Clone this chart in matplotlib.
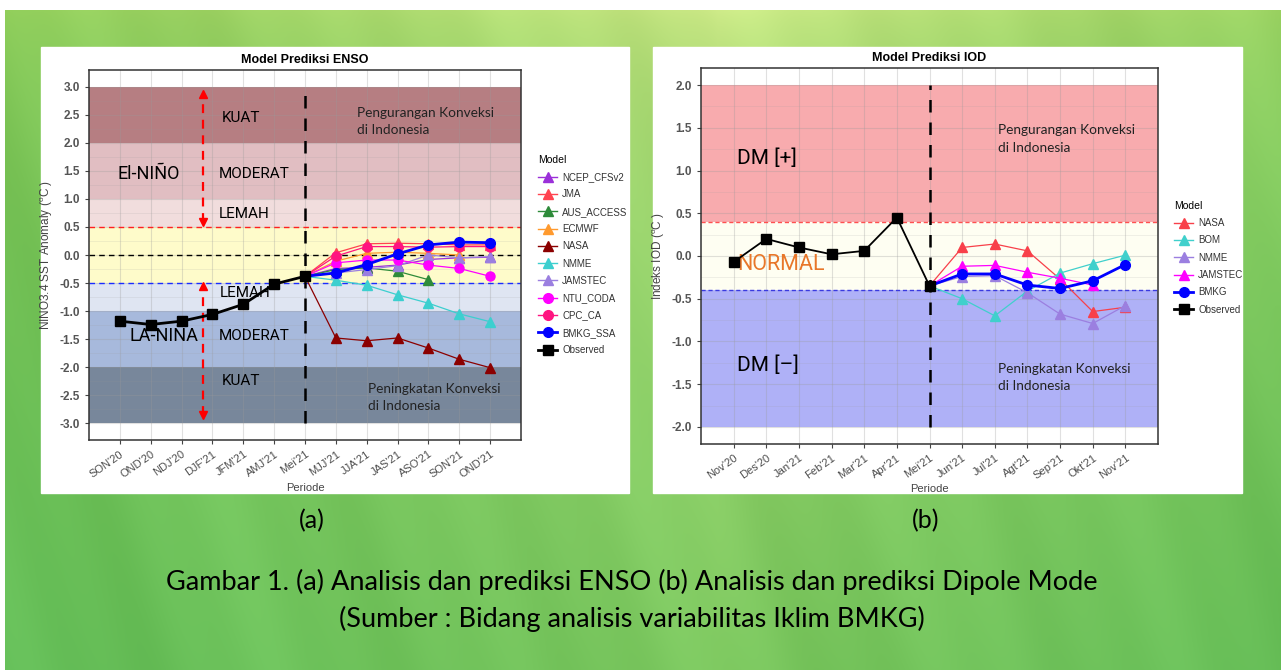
import numpy as np
import matplotlib.pyplot as plt
from matplotlib.patches import Rectangle
from matplotlib.lines import Line2D

W, H = 1281, 670

# ---- data ENSO (nilai prediksi mulai MJJ'21) ----
enso_periode = ["SON'20", "OND'20", "NDJ'20", "DJF'21", "JFM'21", "AMJ'21", "Mei'21",
                "MJJ'21", "JJA'21", "JAS'21", "ASO'21", "SON'21", "OND'21"]
enso_observed = [-1.18, -1.24, -1.18, -1.06, -0.88, -0.52, -0.38]
enso_ncep = [-0.24, -0.22, -0.18, -0.08, -0.05, -0.04]
enso_jma = [0.04, 0.20, 0.21, 0.20, 0.18, 0.18]
enso_aus = [-0.26, -0.23, -0.29, -0.44]
enso_ecmwf = [-0.11, 0.03, 0.05, 0.03, 0.00]
enso_nasa = [-1.48, -1.53, -1.48, -1.66, -1.86, -2.01]
enso_nmme = [-0.45, -0.54, -0.71, -0.86, -1.05, -1.19]
enso_jamstec = [-0.32, -0.26, -0.19, 0.00, -0.05, -0.03]
enso_ntu = [-0.14, -0.09, -0.09, -0.18, -0.24, -0.38]
enso_cpc = [-0.02, 0.15, 0.15, 0.14, 0.15, 0.15]
enso_bmkg = [-0.32, -0.17, 0.02, 0.18, 0.23, 0.22]

# ---- data IOD (prediksi mulai Jun'21) ----
iod_periode = ["Nov'20", "Des'20", "Jan'21", "Feb'21", "Mar'21", "Apr'21", "Mei'21",
               "Jun'21", "Jul'21", "Agt'21", "Sep'21", "Okt'21", "Nov'21"]
iod_observed = [-0.07, 0.20, 0.10, 0.02, 0.06, 0.45, -0.35]
iod_nasa = [0.10, 0.14, 0.06, -0.27, -0.65, -0.60]
iod_bom = [-0.50, -0.70, -0.41, -0.20, -0.09, 0.01]
iod_nmme = [-0.24, -0.23, -0.43, -0.68, -0.79, -0.58]
iod_jamstec = [-0.12, -0.11, -0.19, -0.26, -0.34]
iod_bmkg = [-0.21, -0.21, -0.34, -0.38, -0.29, -0.10]

AXFONT = ['Liberation Sans', 'DejaVu Sans']
LABFONT = ['Roboto', 'DejaVu Sans']
CALFONT = ['Lato', 'DejaVu Sans']
plt.rcParams['font.family'] = AXFONT

fig = plt.figure(figsize=(W / 100, H / 100), dpi=100)

# latar hijau
bg = fig.add_axes([0, 0, 1, 1], zorder=-10)
yy, xx = np.mgrid[0:H, 0:W]
tx = np.clip(np.abs(xx - 0.56 * W) / (0.56 * W), 0, 1)[..., None] ** 0.8
ty = (yy / H)[..., None] ** 0.45
top = np.array([222, 242, 145]) * (1 - tx) + np.array([150, 206, 88]) * tx
bot = np.array([125, 200, 95]) * (1 - tx) + np.array([100, 190, 88]) * tx
img = top * (1 - ty) + bot * ty
streak = (3 * np.sin((xx - 0.3 * yy) / 37.0) + 2 * np.sin((xx - 0.28 * yy) / 13.1 + 1.3)
          + 1.5 * np.sin((xx - 0.33 * yy) / 61.0 + 0.4))
img = np.clip(img + streak[..., None], 0, 255) / 255
img[:10, :] = 1
img[:, :5] = 1
bg.imshow(img, extent=(0, W, H, 0), aspect='auto', interpolation='bilinear')
bg.set_xlim(0, W)
bg.set_ylim(H, 0)
bg.axis('off')
bg.add_patch(Rectangle((41, 47), 588, 445.5, color='white'))
bg.add_patch(Rectangle((653, 47), 589, 445.5, color='white'))

bg.text(312, 521, '(a)', fontsize=18, family=CALFONT, ha='center', va='center')
bg.text(926, 521, '(b)', fontsize=18, family=CALFONT, ha='center', va='center')
bg.text(632, 582, 'Gambar 1. (a) Analisis dan prediksi ENSO (b) Analisis dan prediksi Dipole Mode',
        fontsize=19.5, family=CALFONT, ha='center', va='center')
bg.text(632, 619, '(Sumber : Bidang analisis variabilitas Iklim BMKG)',
        fontsize=19.5, family=CALFONT, ha='center', va='center')


def style_axes(ax, periode, yticks, ylim):
    n = len(periode)
    ax.set_xlim(-1, n)
    ax.set_ylim(*ylim)
    # grid ala ggplot, di atas pita warna
    for i in range(n):
        ax.axvline(i, color='#9a9a9a', alpha=0.3, lw=0.8, zorder=1)
    for v in yticks:
        ax.axhline(v, color='#9a9a9a', alpha=0.3, lw=0.8, zorder=1)
    for v in (np.array(yticks[:-1]) + 0.25):
        ax.axhline(v, color='#9a9a9a', alpha=0.2, lw=0.5, zorder=1)
    ax.set_xticks(range(n))
    ax.set_xticklabels(periode, rotation=35, ha='right', va='top', rotation_mode='anchor',
                       fontsize=8, color='#4d4d4d')
    ax.set_yticks(yticks)
    ax.set_yticklabels(['%.1f' % v for v in yticks], fontsize=8.5, color='#555555',
                       fontweight='bold')
    ax.tick_params(length=3, color='#444444', width=0.8)
    for s in ax.spines.values():
        s.set_color('#333333')
        s.set_linewidth(1.1)
    ax.set_xlabel('Periode', fontsize=8, color='#444444', labelpad=2)


def draw_series(ax, start, obs_last, vals, color, marker, lw=0.9, ms=7, z=3):
    x = list(range(start - 1, start + len(vals)))
    y = [obs_last] + list(vals)
    ax.plot(x, y, color=color, lw=lw, zorder=z)
    ax.plot(x[1:], y[1:], ls='none', marker=marker, color=color, ms=ms, zorder=z)


def legend_handle(color, marker, lw=1.0, ms=7):
    return Line2D([0], [0], color=color, lw=lw, marker=marker, ms=ms)


# ================= ENSO =================
ax1 = fig.add_axes([89 / W, 1 - 440 / H, (521 - 89) / W, (440 - 70) / H])
enso_bands = [(2, 3, '#b67e82'), (1, 2, '#e1bec2'), (0.5, 1, '#f1dddd'),
              (-0.5, 0.5, '#fefbca'), (-1, -0.5, '#dfe5f2'), (-2, -1, '#a7b9dc'),
              (-3, -2, '#78879b')]
for lo, hi, c in enso_bands:
    ax1.axhspan(lo, hi, color=c, lw=0, zorder=0.5)
style_axes(ax1, enso_periode, list(np.arange(-3, 3.01, 0.5)), (-3.3, 3.3))
ax1.set_title('Model Prediksi ENSO', fontsize=9, fontweight='bold', pad=5)
ax1.set_ylabel(r'NINO3.4 SST Anomaly ($^{\mathregular{o}}$C )', fontsize=8.5, color='#444444',
               labelpad=3)

ax1.axhline(0.5, color='#ff2020', ls=(0, (4, 3)), lw=1, zorder=2)
ax1.axhline(0.0, color='black', ls=(0, (4, 3)), lw=1, zorder=2)
ax1.axhline(-0.5, color='#1a2cff', ls=(0, (4, 3)), lw=1, zorder=2)
ax1.plot([6, 6], [-3, 3], color='black', ls=(0, (5, 4)), lw=1.8, zorder=2)

# panah merah
for a, b in [(0.58, 2.88), (-2.86, -0.56)]:
    ax1.plot([2.7, 2.7], [a, b], color='red', ls=(0, (4, 3)), lw=1.6, zorder=2)
    ax1.plot(2.7, b, marker='^', color='red', ms=6, zorder=2)
    ax1.plot(2.7, a, marker='v', color='red', ms=6, zorder=2)

ax1.text(3.3, 2.44, 'KUAT', family=LABFONT, fontsize=11, va='center', zorder=2)
ax1.text(3.2, 1.44, 'MODERAT', family=LABFONT, fontsize=11, va='center', zorder=2)
ax1.text(3.2, 0.73, 'LEMAH', family=LABFONT, fontsize=11, va='center', zorder=2)
ax1.text(0.95, 1.44, 'El-NIÑO', family=LABFONT, fontsize=13, va='center', ha='center', zorder=2)
ax1.text(1.43, -1.44, 'LA-NIÑA', family=LABFONT, fontsize=13, va='center', ha='center', zorder=2)
ax1.text(3.25, -0.68, 'LEMAH', family=LABFONT, fontsize=11, va='center', zorder=2)
ax1.text(3.2, -1.44, 'MODERAT', family=LABFONT, fontsize=11, va='center', zorder=2)
ax1.text(3.3, -2.25, 'KUAT', family=LABFONT, fontsize=11, va='center', zorder=2)
ax1.text(7.7, 2.38, 'Pengurangan Konveksi\ndi Indonesia', family=CALFONT, fontsize=9.8,
         va='center', linespacing=1.55, color='#222222', zorder=2)
ax1.text(8.05, -2.54, 'Peningkatan Konveksi\ndi Indonesia', family=CALFONT, fontsize=9.8,
         va='center', linespacing=1.55, color='#222222', zorder=2)

enso_models = [
    ('NCEP_CFSv2', enso_ncep, '#9b30d9', '^'),
    ('JMA', enso_jma, '#ff4350', '^'),
    ('AUS_ACCESS', enso_aus, '#2e8b3a', '^'),
    ('ECMWF', enso_ecmwf, '#ff9a2e', '^'),
    ('NASA', enso_nasa, '#8b0000', '^'),
    ('NMME', enso_nmme, '#3ccfcf', '^'),
    ('JAMSTEC', enso_jamstec, '#9b7fe0', '^'),
    ('NTU_CODA', enso_ntu, '#ff00ff', 'o'),
    ('CPC_CA', enso_cpc, '#ff1480', 'o'),
]
handles = []
for name, vals, c, m in enso_models:
    draw_series(ax1, 7, enso_observed[-1], vals, c, m, ms=7 if m == '^' else 6.5)
    handles.append(legend_handle(c, m))
draw_series(ax1, 7, enso_observed[-1], enso_bmkg, '#0000ff', 'o', lw=2, ms=7, z=4)
handles.append(legend_handle('#0000ff', 'o', lw=2))
ax1.plot(range(len(enso_observed)), enso_observed, color='black', lw=2, marker='s', ms=7,
         zorder=5)
handles.append(legend_handle('black', 's', lw=2))
leg1 = fig.legend(handles, [m[0] for m in enso_models] + ['BMKG_SSA', 'Observed'],
                  title='Model', loc='upper left', bbox_to_anchor=(533 / W, 1 - 150 / H),
                  frameon=False, fontsize=7, title_fontsize=7.5, handlelength=2.0,
                  handletextpad=0.5, labelspacing=0.75, borderpad=0)
leg1._legend_box.align = 'left'
for t in leg1.get_texts():
    t.set_color('#333333')

# ================= IOD =================
ax2 = fig.add_axes([701 / W, 1 - 444 / H, (1158 - 701) / W, (444 - 68) / H])
iod_bands = [(0.4, 2.0, '#f8abae'), (-0.4, 0.4, '#fefef2'), (-2.0, -0.4, '#afb1f7')]
for lo, hi, c in iod_bands:
    ax2.axhspan(lo, hi, color=c, lw=0, zorder=0.5)
style_axes(ax2, iod_periode, list(np.arange(-2, 2.01, 0.5)), (-2.2, 2.2))
ax2.set_title('Model Prediksi IOD', fontsize=9, fontweight='bold', pad=5)
ax2.set_ylabel(r'Indeks IOD ($^{\mathregular{o}}$C )', fontsize=8.5, color='#444444', labelpad=3)

ax2.axhline(0.4, color='#ff5050', ls=(0, (3, 2)), lw=1, zorder=2)
ax2.axhline(-0.4, color='#3a3ae0', ls=(0, (3, 2)), lw=1, zorder=2)
ax2.plot([6, 6], [-2, 2], color='black', ls=(0, (5, 4)), lw=1.8, zorder=2)

ax2.text(0.1, 1.14, 'DM [+]', family=LABFONT, fontsize=15, va='center', zorder=2)
ax2.text(0.1, -0.1, 'NORMAL', family=LABFONT, fontsize=15.5, va='center', color='#e8772a',
         zorder=2)
ax2.text(0.1, -1.28, 'DM [–]', family=LABFONT, fontsize=15, va='center', zorder=2)
ax2.text(8.1, 1.37, 'Pengurangan Konveksi\ndi Indonesia', family=CALFONT, fontsize=9.8,
         va='center', linespacing=1.55, color='#222222', zorder=2)
ax2.text(8.1, -1.42, 'Peningkatan Konveksi\ndi Indonesia', family=CALFONT, fontsize=9.8,
         va='center', linespacing=1.55, color='#222222', zorder=2)

iod_models = [
    ('NASA', iod_nasa, '#f8404a', '^'),
    ('BOM', iod_bom, '#40d0cc', '^'),
    ('NMME', iod_nmme, '#9b7fe0', '^'),
    ('JAMSTEC', iod_jamstec, '#ff00ff', '^'),
]
handles2 = []
for name, vals, c, m in iod_models:
    draw_series(ax2, 7, iod_observed[-1], vals, c, m, ms=7)
    handles2.append(legend_handle(c, m))
draw_series(ax2, 7, iod_observed[-1], iod_bmkg, '#0000ff', 'o', lw=2, ms=7, z=4)
handles2.append(legend_handle('#0000ff', 'o', lw=2))
ax2.plot(range(len(iod_observed)), iod_observed, color='black', lw=1.3, marker='s', ms=7,
         zorder=5)
handles2.append(legend_handle('black', 's', lw=2))
leg2 = fig.legend(handles2, [m[0] for m in iod_models] + ['BMKG', 'Observed'],
                  title='Model', loc='upper left', bbox_to_anchor=(1169 / W, 1 - 196 / H),
                  frameon=False, fontsize=7, title_fontsize=7.5, handlelength=2.0,
                  handletextpad=0.5, labelspacing=0.75, borderpad=0)
leg2._legend_box.align = 'left'
for t in leg2.get_texts():
    t.set_color('#333333')

fig.savefig('out.png', dpi=100)
